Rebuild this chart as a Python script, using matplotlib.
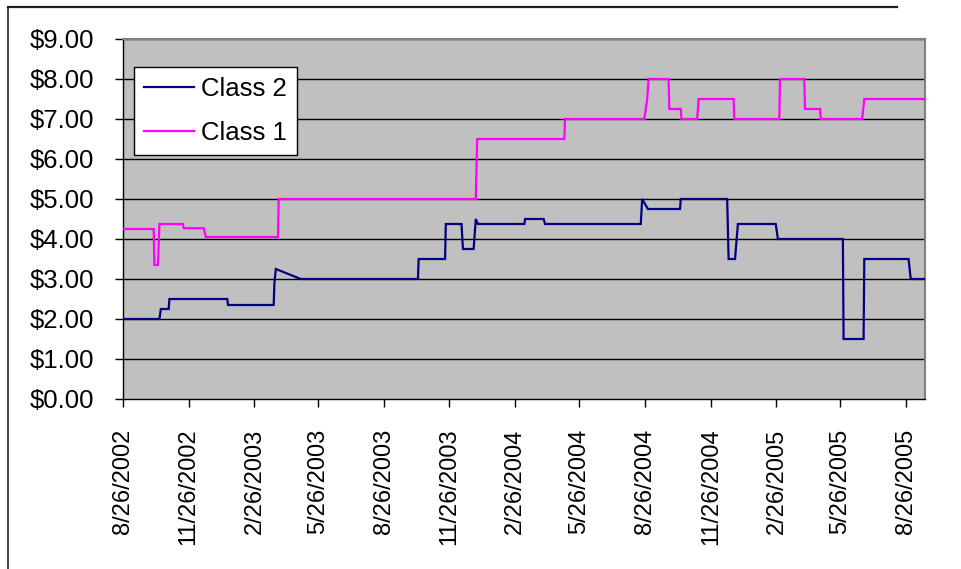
import datetime as dt
import matplotlib
matplotlib.use("Agg")
import matplotlib.pyplot as plt
import matplotlib.dates as mdates
from matplotlib.lines import Line2D
from matplotlib.ticker import FixedLocator, FuncFormatter

# Price history for the two share classes
class2_dates = ["2002-08-26", "2002-10-16", "2002-10-18", "2002-10-29", "2002-10-30",
                "2003-01-19", "2003-01-20", "2003-03-25", "2003-03-26", "2003-03-28",
                "2003-05-02", "2003-10-13", "2003-10-14", "2003-11-20", "2003-11-21",
                "2003-12-13", "2003-12-15", "2003-12-30", "2004-01-02", "2004-01-05",
                "2004-03-10", "2004-03-11", "2004-04-06", "2004-04-08", "2004-08-20",
                "2004-08-22", "2004-08-30", "2004-10-14", "2004-10-15", "2004-12-19",
                "2004-12-21", "2004-12-30", "2005-01-03", "2005-02-25", "2005-02-28",
                "2005-05-30", "2005-05-31", "2005-06-28", "2005-06-29", "2005-08-30",
                "2005-09-02", "2005-09-22"]
class2_values = [2.00, 2.00, 2.25, 2.25, 2.50,
                 2.50, 2.35, 2.35, 2.90, 3.25,
                 3.00, 3.00, 3.50, 3.50, 4.375,
                 4.375, 3.75, 3.75, 4.50, 4.375,
                 4.375, 4.50, 4.50, 4.375, 4.375,
                 5.00, 4.75, 4.75, 5.00, 5.00,
                 3.50, 3.50, 4.375, 4.375, 4.00,
                 4.00, 1.50, 1.50, 3.50, 3.50,
                 3.00, 3.00]

class1_dates = ["2002-08-26", "2002-10-08", "2002-10-09", "2002-10-14", "2002-10-16",
                "2002-11-18", "2002-11-19", "2002-12-17", "2002-12-20", "2003-03-31",
                "2003-04-01", "2004-01-02", "2004-01-04", "2004-05-05", "2004-05-06",
                "2004-08-25", "2004-08-29", "2004-08-31", "2004-09-28", "2004-09-29",
                "2004-10-15", "2004-10-16", "2004-11-07", "2004-11-09", "2004-12-28",
                "2004-12-29", "2005-03-02", "2005-03-03", "2005-04-06", "2005-04-07",
                "2005-04-28", "2005-04-29", "2005-06-26", "2005-06-29", "2005-09-22"]
class1_values = [4.25, 4.25, 3.35, 3.35, 4.375,
                 4.375, 4.27, 4.27, 4.05, 4.05,
                 5.00, 5.00, 6.50, 6.50, 7.00,
                 7.00, 7.50, 8.00, 8.00, 7.25,
                 7.25, 7.00, 7.00, 7.50, 7.50,
                 7.00, 7.00, 8.00, 8.00, 7.25,
                 7.25, 7.00, 7.00, 7.50, 7.50]

tick_labels = ["8/26/2002", "11/26/2002", "2/26/2003", "5/26/2003", "8/26/2003",
               "11/26/2003", "2/26/2004", "5/26/2004", "8/26/2004", "11/26/2004",
               "2/26/2005", "5/26/2005", "8/26/2005"]
y_ticks = [0, 1, 2, 3, 4, 5, 6, 7, 8, 9]


def to_date(s):
    return dt.datetime.strptime(s, "%Y-%m-%d")


def label_to_date(s):
    m, d, y = s.split("/")
    return dt.datetime(int(y), int(m), int(d))


plt.rcParams["font.family"] = ["Liberation Sans", "DejaVu Sans"]

W, H = 961, 569
fig = plt.figure(figsize=(W / 100, H / 100), dpi=100)
fig.patch.set_facecolor("white")

ax = fig.add_axes([123 / W, 1 - 399 / H, (925 - 123) / W, (399 - 39) / H])
ax.set_facecolor("#C0C0C0")

for y in y_ticks[1:]:
    ax.axhline(y, color="#000000", lw=1.0, zorder=1)

c2_x = [to_date(s) for s in class2_dates]
c1_x = [to_date(s) for s in class1_dates]
ax.plot(c2_x, class2_values, color="#000080", lw=1.6, label="Class 2", zorder=3,
        solid_joinstyle="miter")
ax.plot(c1_x, class1_values, color="#FF00FF", lw=1.6, label="Class 1", zorder=3,
        solid_joinstyle="miter")

ax.set_xlim(to_date("2002-08-26"), to_date("2005-09-22"))
ax.set_ylim(0, 9)

tick_pos = [mdates.date2num(label_to_date(s)) for s in tick_labels]
ax.xaxis.set_major_locator(FixedLocator(tick_pos))
ax.set_xticklabels(tick_labels, rotation=90, fontsize=17, va="top", ha="center")
ax.yaxis.set_major_locator(FixedLocator(y_ticks))
ax.yaxis.set_major_formatter(FuncFormatter(lambda v, p: f"${v:.2f}"))
ax.tick_params(axis="y", labelsize=18.5, length=5.5, width=1, color="black", pad=15)
ax.tick_params(axis="x", length=5.5, width=1, color="black", pad=16)

for side in ["top", "right", "bottom", "left"]:
    ax.spines[side].set_color("#808080")
    ax.spines[side].set_linewidth(1.5)
ax.spines["left"].set_color("#000000")
ax.spines["left"].set_linewidth(1.0)
ax.spines["bottom"].set_color("#000000")
ax.spines["bottom"].set_linewidth(1.0)

leg = ax.legend(loc="upper left", bbox_to_anchor=(134 / W, 1 - 67 / H),
                bbox_transform=fig.transFigure, fontsize=18.5, frameon=True,
                fancybox=False, edgecolor="black", facecolor="white", framealpha=1,
                borderaxespad=0, borderpad=0.4, handlelength=1.95,
                handletextpad=0.25, labelspacing=0.75)
leg.get_frame().set_linewidth(1.0)
for h in leg.get_lines():
    h.set_linewidth(1.6)

# outer chart frame
fig.add_artist(Line2D([8 / W, 897 / W], [1 - 7 / H, 1 - 7 / H], color="#202020", lw=1.6,
                      transform=fig.transFigure))
fig.add_artist(Line2D([8 / W, 8 / W], [1 - 7 / H, 0], color="#202020", lw=1.2,
                      transform=fig.transFigure))

fig.savefig("out.png", dpi=100)
